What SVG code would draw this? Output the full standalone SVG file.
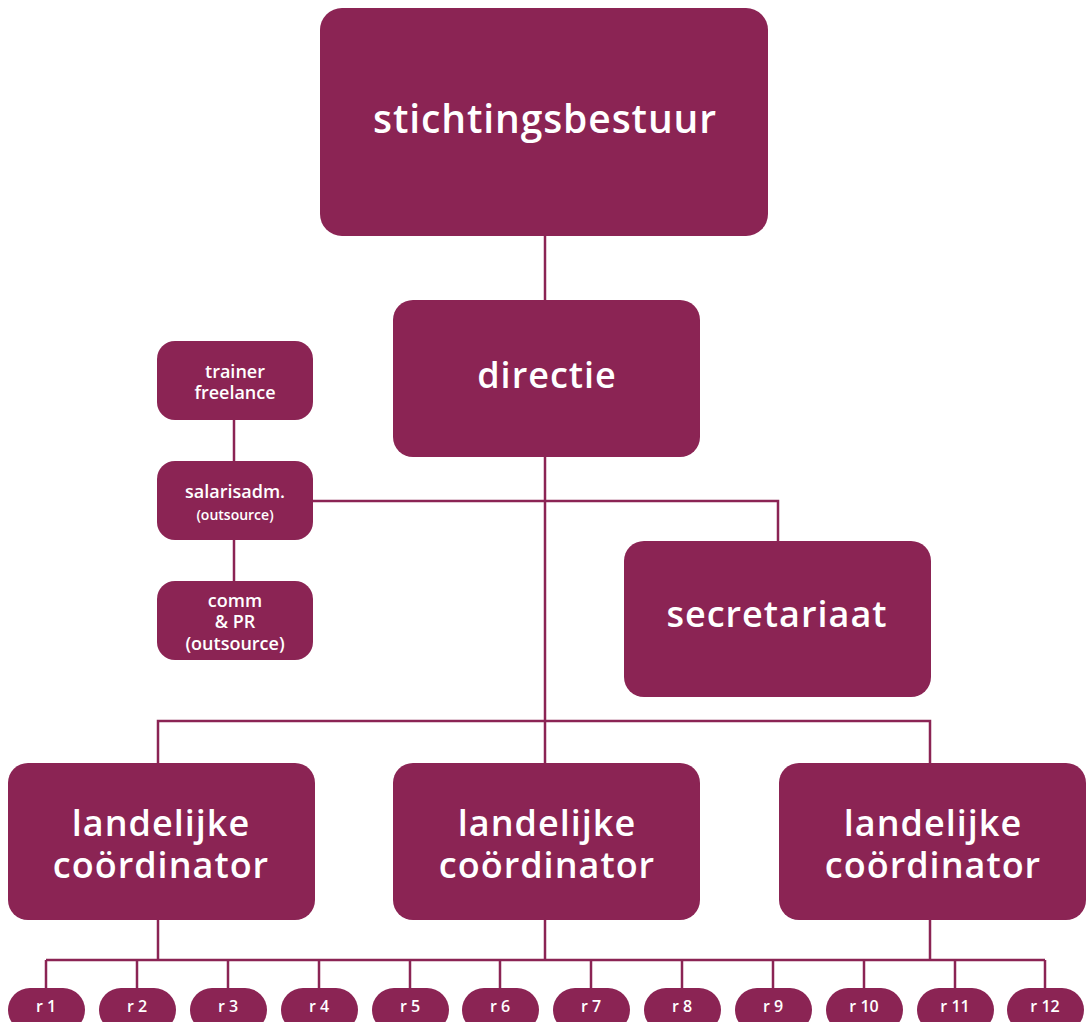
<svg xmlns="http://www.w3.org/2000/svg" width="1092" height="1022" viewBox="0 0 1092 1022">
<style>
.n{fill:#8b2454}
.t{fill:#fff;font-family:"Open Sans","Noto Sans",sans-serif;font-weight:600;text-anchor:middle}
.big{font-size:39px;letter-spacing:0.9px}
.mid{font-size:36px;letter-spacing:1px}
.sm{font-size:18px}
.xs{font-size:14px}
.r{font-size:16px}
#connectors path{fill:none;stroke:#8b2454;stroke-width:2.5}
</style>
<rect width="1092" height="1022" fill="#fff"/>
<g id="connectors">
<path d="M545 236V300"/>
<path d="M545 457V763"/>
<path d="M313 501H778V541"/>
<path d="M234 420V461M234 540V581"/>
<path d="M158 763V721H930V763"/>
<path d="M158 920V960M545 920V960M930 920V960M46 960H1045"/>
<path d="M46 960V988M137 960V988M228 960V988M319 960V988M410 960V988M500 960V988M591 960V988M682 960V988M773 960V988M864 960V988M955 960V988M1045 960V988"/>
</g>
<g id="stichtingsbestuur"><rect class="n" x="320" y="8" width="448" height="228" rx="22"/><text class="t big" x="545" y="133">stichtingsbestuur</text></g>
<g id="directie"><rect class="n" x="393" y="300" width="307" height="157" rx="20"/><text class="t mid" x="547" y="388">directie</text></g>
<g id="secretariaat"><rect class="n" x="624" y="541" width="307" height="156" rx="20"/><text class="t mid" x="777" y="627">secretariaat</text></g>
<g id="trainer"><rect class="n" x="157" y="341" width="156" height="79" rx="18"/><text class="t sm" x="235" y="378">trainer</text><text class="t sm" x="235" y="399">freelance</text></g>
<g id="salarisadm"><rect class="n" x="157" y="461" width="156" height="79" rx="18"/><text class="t sm" x="235" y="498">salarisadm.</text><text class="t xs" x="235" y="520">(outsource)</text></g>
<g id="comm"><rect class="n" x="157" y="581" width="156" height="79" rx="18"/><text class="t sm" x="235" y="607">comm</text><text class="t sm" x="235" y="628">&amp; PR</text><text class="t sm" x="235" y="650">(outsource)</text></g>
<g id="coord1"><rect class="n" x="8" y="763" width="307" height="157" rx="20"/><text class="t mid" x="161" y="836">landelijke</text><text class="t mid" x="161" y="878">coördinator</text></g>
<g id="coord2"><rect class="n" x="393" y="763" width="307" height="157" rx="20"/><text class="t mid" x="547" y="836">landelijke</text><text class="t mid" x="547" y="878">coördinator</text></g>
<g id="coord3"><rect class="n" x="779" y="763" width="307" height="157" rx="20"/><text class="t mid" x="933" y="836">landelijke</text><text class="t mid" x="933" y="878">coördinator</text></g>
<g id="r1"><rect class="n" x="8" y="988" width="77" height="44" rx="22"/><text class="t r" x="46" y="1012">r 1</text></g>
<g id="r2"><rect class="n" x="99" y="988" width="77" height="44" rx="22"/><text class="t r" x="137" y="1012">r 2</text></g>
<g id="r3"><rect class="n" x="190" y="988" width="77" height="44" rx="22"/><text class="t r" x="228" y="1012">r 3</text></g>
<g id="r4"><rect class="n" x="281" y="988" width="77" height="44" rx="22"/><text class="t r" x="319" y="1012">r 4</text></g>
<g id="r5"><rect class="n" x="372" y="988" width="77" height="44" rx="22"/><text class="t r" x="410" y="1012">r 5</text></g>
<g id="r6"><rect class="n" x="462" y="988" width="77" height="44" rx="22"/><text class="t r" x="500" y="1012">r 6</text></g>
<g id="r7"><rect class="n" x="553" y="988" width="77" height="44" rx="22"/><text class="t r" x="591" y="1012">r 7</text></g>
<g id="r8"><rect class="n" x="644" y="988" width="77" height="44" rx="22"/><text class="t r" x="682" y="1012">r 8</text></g>
<g id="r9"><rect class="n" x="735" y="988" width="77" height="44" rx="22"/><text class="t r" x="773" y="1012">r 9</text></g>
<g id="r10"><rect class="n" x="826" y="988" width="77" height="44" rx="22"/><text class="t r" x="864" y="1012">r 10</text></g>
<g id="r11"><rect class="n" x="917" y="988" width="77" height="44" rx="22"/><text class="t r" x="955" y="1012">r 11</text></g>
<g id="r12"><rect class="n" x="1007" y="988" width="77" height="44" rx="22"/><text class="t r" x="1045" y="1012">r 12</text></g>
</svg>
